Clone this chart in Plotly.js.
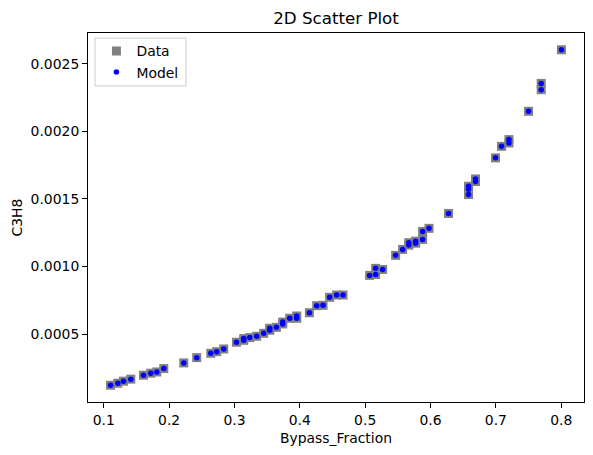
<!DOCTYPE html>
<html>
<head>
<meta charset="utf-8">
<script src="https://cdn.plot.ly/plotly-3.0.1.min.js"></script>
<style>html,body{margin:0;padding:0;background:#fff;}#chart{width:593px;height:455px;}</style>
</head>
<body>
<div id="chart"></div>
<script>
const bypassFraction = [
  0.1103, 0.1214, 0.1301, 0.1413, 0.1607, 0.1719, 0.1811, 0.1918, 0.2224, 0.2422,
  0.2637, 0.2728, 0.2835, 0.3030, 0.3141, 0.3141, 0.3233, 0.3340, 0.3447, 0.3539,
  0.3539, 0.3641, 0.3738, 0.3738, 0.3845, 0.3952, 0.3952, 0.4146, 0.4258, 0.4355,
  0.4456, 0.4563, 0.4661, 0.5068, 0.5160, 0.5160, 0.5267, 0.5466, 0.5573, 0.5668,
  0.5668, 0.5772, 0.5772, 0.5879, 0.5879, 0.5977, 0.6276, 0.6582, 0.6582, 0.6582,
  0.6689, 0.6689, 0.6995, 0.7087, 0.7200, 0.7200, 0.7500, 0.7694, 0.7694, 0.8004
];
const c3h8Data = [
  0.000123, 0.000138, 0.000153, 0.000168, 0.000197, 0.000212, 0.000221, 0.000246, 0.000288, 0.000327,
  0.000359, 0.000371, 0.000391, 0.000441, 0.000455, 0.000468, 0.000475, 0.000485, 0.000507, 0.000529,
  0.000544, 0.000551, 0.000576, 0.000590, 0.000618, 0.000618, 0.000635, 0.000659, 0.000711, 0.000714,
  0.000773, 0.000790, 0.000790, 0.000935, 0.000942, 0.000987, 0.000979, 0.001083, 0.001127, 0.001159,
  0.001177, 0.001173, 0.001188, 0.001201, 0.001260, 0.001283, 0.001393, 0.001533, 0.001572, 0.001594,
  0.001629, 0.001648, 0.001804, 0.001889, 0.001914, 0.001939, 0.002148, 0.002308, 0.002354, 0.002603
];
const c3h8Model = c3h8Data.slice();
const xTicks = [0.1, 0.2, 0.3, 0.4, 0.5, 0.6, 0.7, 0.8];
const yTicks = [0.0005, 0.0010, 0.0015, 0.0020, 0.0025];

const font = {family: 'DejaVu Sans', size: 13.9, color: '#000'};
const traces = [
  {x: bypassFraction, y: c3h8Data, type: 'scatter', mode: 'markers', name: 'Data',
   marker: {symbol: 'square', size: 9, color: '#808080'}},
  {x: bypassFraction, y: c3h8Model, type: 'scatter', mode: 'markers', name: 'Model',
   marker: {symbol: 'circle', size: 5.5, color: '#0000ff'}}
];
const layout = {
  width: 593, height: 455,
  margin: {l: 88, r: 9, t: 33, b: 53},
  paper_bgcolor: '#fff', plot_bgcolor: '#fff',
  font: font,
  showlegend: true,
  title: {text: '2D Scatter Plot', font: {family: 'DejaVu Sans', size: 16.7, color: '#000'},
          x: 0.5, xref: 'paper', y: 1 - 18/455, yref: 'container', yanchor: 'middle'},
  xaxis: {range: [0.0758, 0.8349], tickvals: xTicks, ticktext: xTicks.map(v => v.toFixed(1)),
          showgrid: false, zeroline: false, showline: true, linecolor: '#000', linewidth: 1, mirror: true,
          ticks: 'outside', ticklen: 5, tickcolor: '#000', tickfont: font,
          title: {text: 'Bypass_Fraction', font: font, standoff: 6}},
  yaxis: {range: [-0.000001, 0.002727], tickvals: yTicks, ticktext: yTicks.map(v => v.toFixed(4)),
          showgrid: false, zeroline: false, showline: true, linecolor: '#000', linewidth: 1, mirror: true,
          ticks: 'outside', ticklen: 5, tickcolor: '#000', tickfont: font,
          title: {text: 'C3H8', font: font, standoff: 4}},
  legend: {x: 0.017, y: 0.9932, xanchor: 'left', yanchor: 'top', bgcolor: 'rgba(0,0,0,0)',
           borderwidth: 0, font: font, itemwidth: 30},
  shapes: [{type: 'rect', xref: 'paper', yref: 'paper', x0: 0.0141, x1: 0.1976, y0: 0.8564, y1: 0.9864,
            line: {color: '#cccccc', width: 1}, fillcolor: 'rgba(255,255,255,0.8)', layer: 'below'}]
};
Plotly.newPlot('chart', traces, layout, {displayModeBar: false, staticPlot: true});
</script>
</body>
</html>
